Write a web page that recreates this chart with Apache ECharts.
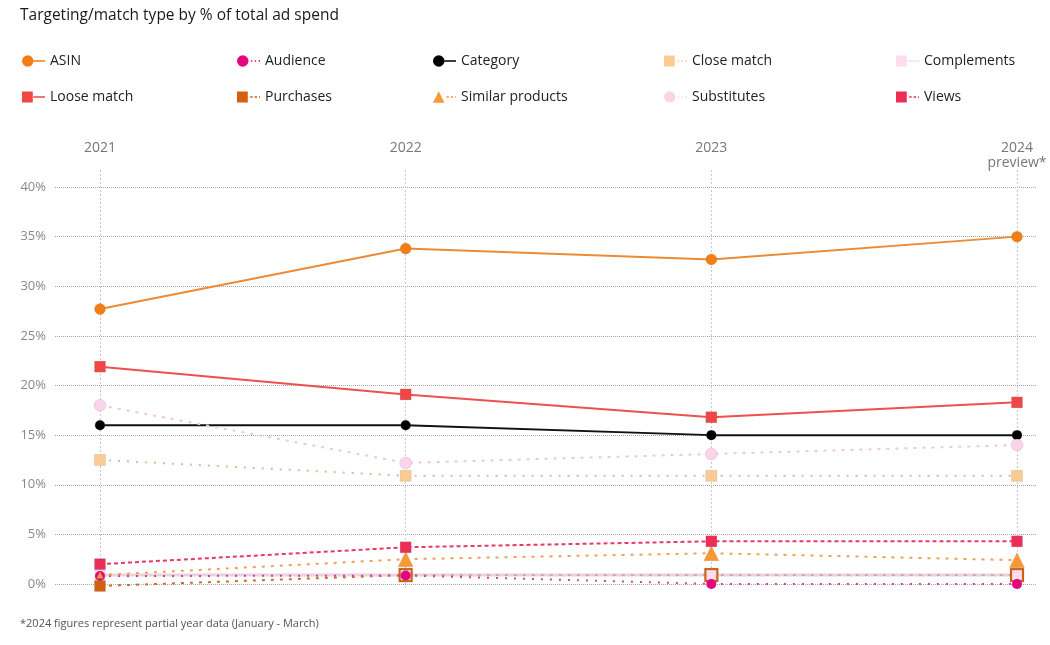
<!DOCTYPE html>
<html><head><meta charset="utf-8">
<script src="https://cdn.jsdelivr.net/npm/echarts@6/dist/echarts.min.js"></script>
<style>html,body{margin:0;padding:0;background:#fff}#c{width:1050px;height:645px}</style>
</head><body><div id="c"></div>
<script>
const years = ['2021', '2022', '2023', '2024'];
const yearLabels = ['2021', '2022', '2023', '2024\npreview*'];
const yTicks = [0, 5, 10, 15, 20, 25, 30, 35, 40];

const asin = [27.7, 33.8, 32.7, 35.0];
const looseMatch = [21.9, 19.1, 16.8, 18.3];
const category = [16.0, 16.0, 15.0, 15.0];
const substitutes = [18.0, 12.2, 13.1, 14.0];
const closeMatch = [12.5, 10.9, 10.9, 10.9];
const views = [2.0, 3.7, 4.3, 4.3];
const similarProducts = [0.9, 2.5, 3.1, 2.4];
const audience = [0.8, 0.85, 0.0, 0.0];
const purchases = [-0.2, 0.9, 0.9, 0.9];
const complements = [0.9, 0.9, 0.9, 0.9];

const FONT = '"Open Sans", "Noto Sans", sans-serif';

function icon(shape, dash) {
  let s;
  if (shape === 'circle') s = 'M0 6 A6 6 0 1 0 12 6 A6 6 0 1 0 0 6 Z ';
  else if (shape === 'triangle') s = 'M6 0 L12 12 L0 12 Z ';
  else s = 'M0.5 0.5 H11.5 V11.5 H0.5 Z ';
  let l;
  if (dash === 'solid') l = 'M12 5.3 H24 V6.7 H12 Z';
  else if (dash === 'dashed') l = 'M14 5.3 H16.5 V6.7 H14 Z M18.5 5.3 H21 V6.7 H18.5 Z M23 5.3 H24 V6.7 H23 Z';
  else l = 'M14.5 5.3 H16 V6.7 H14.5 Z M18.5 5.3 H20 V6.7 H18.5 Z M22.5 5.3 H24 V6.7 H22.5 Z';
  return 'path://' + s + l;
}

const defs = [
  {name: 'ASIN', data: asin, shape: 'circle', size: 11, color: '#f47d14', line: '#ec8a36', dash: 'solid', ltype: 'solid', w: 2},
  {name: 'Loose match', data: looseMatch, shape: 'rect', size: 11, color: '#f04646', line: '#ee5050', dash: 'solid', ltype: 'solid', w: 2},
  {name: 'Category', data: category, shape: 'circle', size: 10, color: '#000000', line: '#111111', dash: 'solid', ltype: 'solid', w: 2},
  {name: 'Substitutes', data: substitutes, shape: 'circle', size: 12, color: '#fbd4ea', line: '#efc6dc', dash: 'dotted', ltype: [3, 6], w: 2},
  {name: 'Close match', data: closeMatch, shape: 'rect', size: 11, color: '#fdca92', line: '#d9bb98', dash: 'dotted', ltype: [2, 7], w: 2},
  {name: 'Purchases', data: purchases, shape: 'rect', size: (v, p) => p.dataIndex === 0 ? 11 : 14, color: '#d2600e', line: '#c8702e', dash: 'dashed', ltype: [3, 6], w: 2},
  {name: 'Complements', data: complements, shape: 'rect', size: 10, color: '#fddcec', line: 'rgba(225,190,210,0.7)', dash: 'solid', ltype: 'solid', w: 3},
  {name: 'Audience', data: audience, shape: 'circle', size: 10, color: '#e6057f', line: '#d0448e', dash: 'dotted', ltype: [2, 7], w: 2},
  {name: 'Similar products', data: similarProducts, shape: 'triangle', size: (v, p) => p.dataIndex === 0 ? 7 : 15, color: '#f89a34', line: '#f0a052', dash: 'dashed', ltype: [3, 6], w: 2},
  {name: 'Views', data: views, shape: 'rect', size: 11, color: '#ec2d56', line: '#e63a60', dash: 'dashed', ltype: [4, 3], w: 2}
];
const byName = {};
defs.forEach(d => byName[d.name] = d);

const columns = [
  {left: 22, names: ['ASIN', 'Loose match']},
  {left: 237, names: ['Audience', 'Purchases']},
  {left: 433, names: ['Category', 'Similar products']},
  {left: 664, names: ['Close match', 'Substitutes']},
  {left: 896, names: ['Complements', 'Views']}
];

const legends = columns.map(c => ({
  orient: 'vertical', left: c.left, top: 54, padding: 0,
  itemWidth: 23, itemHeight: 12, itemGap: 22,
  textStyle: {fontFamily: FONT, fontSize: 14, color: '#222', padding: [0, 0, 0, 0]},
  data: c.names.map(n => ({name: n, icon: icon(byName[n].shape, byName[n].dash),
    itemStyle: {color: byName[n].color, borderWidth: 0}}))
}));

const series = defs.map(d => ({
  name: d.name, type: 'line', xAxisIndex: 0, yAxisIndex: 0, clip: false,
  data: d.data, symbol: d.shape, symbolSize: d.size, showSymbol: true,
  itemStyle: {color: d.color, borderColor: 'rgba(120,120,120,0.35)', borderWidth: 0.5},
  lineStyle: {color: d.line, width: d.w, type: d.ltype},
  emphasis: {disabled: true}, animation: false
}));

const chart = echarts.init(document.getElementById('c'), null, {renderer: 'canvas'});
chart.setOption({
  animation: false,
  backgroundColor: '#fff',
  title: {text: 'Targeting/match type by % of total ad spend', left: 20, top: 8, padding: 0,
    textStyle: {fontFamily: FONT, fontSize: 15.5, fontWeight: 500, color: '#1a1a1a'}},
  legend: legends,
  graphic: [{type: 'text', left: 20, top: 618,
    style: {text: '*2024 figures represent partial year data (January - March)', font: '11px ' + FONT, fill: '#555'}}],
  grid: [
    {left: 100, right: 33, top: 187, bottom: 61},
    {left: 55, right: 14, top: 187, bottom: 61},
    {left: 100, right: 33, top: 170, bottom: 55}
  ],
  xAxis: [
    {gridIndex: 0, type: 'category', data: years, boundaryGap: false, show: false},
    {gridIndex: 1, type: 'value', show: false, min: 0, max: 1},
    {gridIndex: 2, type: 'category', data: yearLabels, boundaryGap: false, position: 'top',
      axisLine: {show: false}, axisTick: {show: false},
      axisLabel: {margin: 29, verticalAlign: 'top', fontFamily: FONT, fontSize: 14, color: '#777', lineHeight: 15},
      splitLine: {show: true, lineStyle: {color: '#c8c8c8', type: [2, 2], width: 1}}}
  ],
  yAxis: [
    {gridIndex: 0, type: 'value', min: 0, max: 40, show: false},
    {gridIndex: 1, type: 'value', min: yTicks[0], max: yTicks[yTicks.length - 1], interval: 5,
      axisLine: {show: false}, axisTick: {show: false},
      axisLabel: {formatter: '{value}%', margin: 9, fontFamily: FONT, fontSize: 13, color: '#888'},
      splitLine: {show: true, lineStyle: {color: '#a8a8a8', type: [1, 1], width: 1}}},
    {gridIndex: 2, type: 'value', show: false}
  ],
  series: series
});
</script>
</body></html>
